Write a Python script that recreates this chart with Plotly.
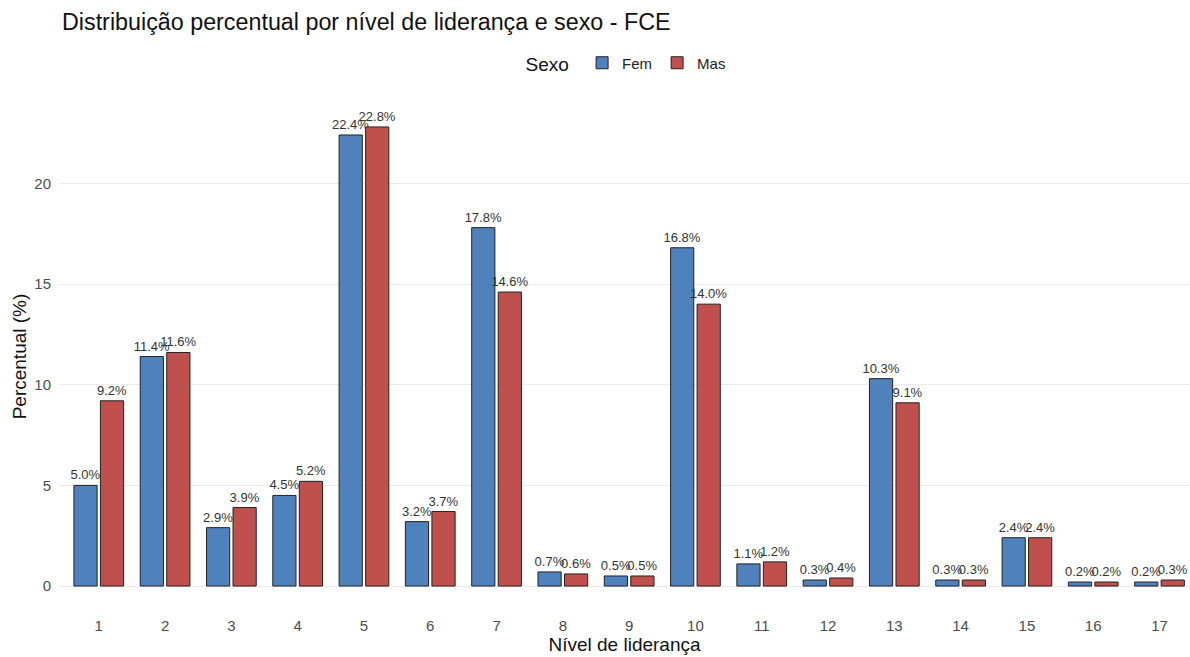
import plotly.graph_objects as go

niveis = [str(i) for i in range(1, 18)]
fem = [5.0, 11.4, 2.9, 4.5, 22.4, 3.2, 17.8, 0.7, 0.5, 16.8, 1.1, 0.3, 10.3, 0.3, 2.4, 0.2, 0.2]
mas = [9.2, 11.6, 3.9, 5.2, 22.8, 3.7, 14.6, 0.6, 0.5, 14.0, 1.2, 0.4, 9.1, 0.3, 2.4, 0.2, 0.3]

FONT = "Liberation Sans, Arial, sans-serif"
ymax = max(fem + mas)

fig = go.Figure()
for name, vals, color in [("Fem", fem, "#4F81BD"), ("Mas", mas, "#C0504D")]:
    fig.add_bar(
        x=niveis, y=vals, name=name,
        marker=dict(color=color, line=dict(color="#222222", width=1)),
        text=[f"{v:.1f}%" for v in vals], textposition="outside",
        constraintext="none", cliponaxis=False,
        textfont=dict(size=13, color="#333333", family=FONT),
    )

fig.update_layout(
    width=1190, height=657,
    barmode="group", bargap=0.2, bargroupgap=0.125,
    plot_bgcolor="white", paper_bgcolor="white",
    font=dict(family=FONT, color="#222222"),
    margin=dict(l=59, r=0, t=104, b=48),
    title=dict(text="Distribuição percentual por nível de liderança e sexo - FCE",
               x=62 / 1190, xref="container", xanchor="left",
               y=1 - 22 / 657, yref="container", yanchor="middle",
               font=dict(size=23.3, color="#111111")),
    legend=dict(orientation="h", xref="container", x=627 / 1190, xanchor="center",
                yref="container", y=1 - 64 / 657, yanchor="middle",
                title=dict(text="Sexo ", font=dict(size=19, color="#111111")),
                font=dict(size=15, color="#222222")),
)
fig.update_xaxes(
    range=[-0.6, 16.46], automargin=False,
    title=dict(text="Nível de liderança", font=dict(size=19, color="#111111"), standoff=3),
    showgrid=False, zeroline=False, showline=False, ticks="",
    tickfont=dict(size=15, color="#4D4D4D"), ticklabelstandoff=6,
)
fig.update_yaxes(
    range=[-0.05 * ymax, 1.05 * ymax], automargin=False,
    tickvals=[0, 5, 10, 15, 20],
    title=dict(text="Percentual (%)", font=dict(size=19, color="#111111"), standoff=2),
    showgrid=True, gridcolor="#EBEBEB", gridwidth=1, zeroline=False, showline=False,
    tickfont=dict(size=15, color="#4D4D4D"), ticklabelstandoff=7,
)

fig.write_html("out.html", config={"displayModeBar": False},
               post_script="document.body.style.margin='0';")
